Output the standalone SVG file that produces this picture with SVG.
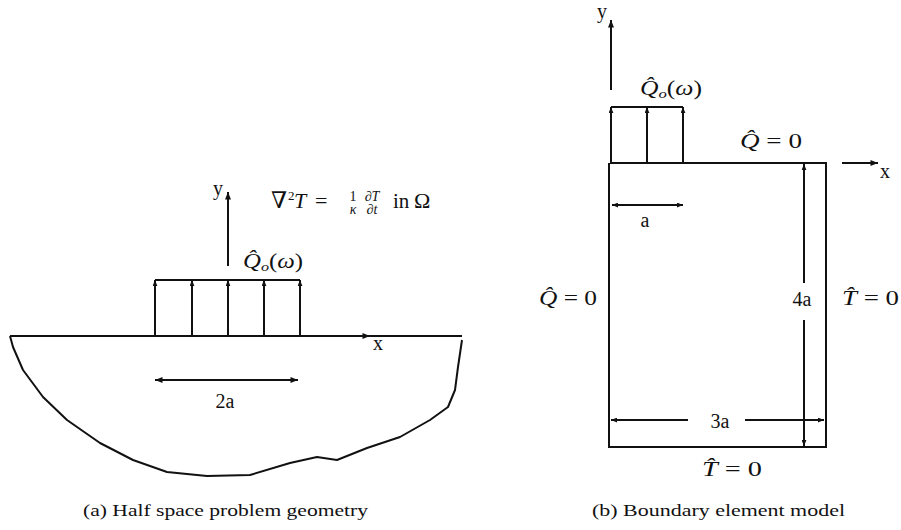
<svg xmlns="http://www.w3.org/2000/svg" width="901" height="530" viewBox="0 0 901 530">
<style>
.ln{stroke:#111;stroke-width:2;fill:none}
.t{font-family:"Liberation Serif","DejaVu Serif",serif;fill:#111}
.i{font-style:italic}
.cap{font-family:"Liberation Serif","DejaVu Serif",serif;fill:#111;font-size:17px}
</style>
<defs>
<marker id="ah" viewBox="0 0 10 8" refX="10" refY="4" markerWidth="8" markerHeight="6" markerUnits="userSpaceOnUse" orient="auto-start-reverse"><path d="M0,0 L10,4 L0,8 z" fill="#111"/></marker>
<marker id="as" viewBox="0 0 10 8" refX="10" refY="4" markerWidth="6" markerHeight="5" markerUnits="userSpaceOnUse" orient="auto-start-reverse"><path d="M0,0 L10,4 L0,8 z" fill="#111"/></marker>
</defs>
<rect width="901" height="530" fill="#fff"/>

<g id="halfspace">
<line class="ln" x1="10" y1="336" x2="462" y2="336"/>
<polyline class="ln" stroke-linejoin="round" points="10,336 13,347 23,370 43,397 67,420 100,443 133,460 167,472 207,476 250,475 290,463 317,457 337,460 367,448 400,437 430,420 448,407 455,390 458,367 462,340"/>
</g>

<g id="connectors">
<line class="ln" x1="300" y1="336" x2="370" y2="336" marker-end="url(#ah)"/>
<line class="ln" x1="228" y1="266" x2="228" y2="192" marker-end="url(#ah)"/>
<line class="ln" x1="155" y1="280" x2="300" y2="280"/>
<line class="ln" x1="155" y1="336" x2="155" y2="280" marker-end="url(#as)"/>
<line class="ln" x1="192" y1="336" x2="192" y2="280" marker-end="url(#as)"/>
<line class="ln" x1="228" y1="336" x2="228" y2="280" marker-end="url(#as)"/>
<line class="ln" x1="264" y1="336" x2="264" y2="280" marker-end="url(#as)"/>
<line class="ln" x1="300" y1="336" x2="300" y2="280" marker-end="url(#as)"/>
<line class="ln" x1="155" y1="380" x2="298" y2="380" marker-start="url(#ah)" marker-end="url(#ah)"/>
<line class="ln" x1="611" y1="90" x2="611" y2="20" marker-end="url(#ah)"/>
<line class="ln" x1="611" y1="107" x2="683" y2="107"/>
<line class="ln" x1="611" y1="163" x2="611" y2="107" marker-end="url(#as)"/>
<line class="ln" x1="647" y1="163" x2="647" y2="107" marker-end="url(#as)"/>
<line class="ln" x1="683" y1="163" x2="683" y2="107" marker-end="url(#as)"/>
<line class="ln" x1="842" y1="163" x2="878" y2="163" marker-end="url(#ah)"/>
<line class="ln" x1="612" y1="205" x2="683" y2="205" marker-start="url(#as)" marker-end="url(#as)"/>
<line class="ln" x1="804" y1="283" x2="804" y2="164" marker-end="url(#as)"/>
<line class="ln" x1="804" y1="320" x2="804" y2="446" marker-end="url(#as)"/>
<line class="ln" x1="688" y1="420" x2="611" y2="420" marker-end="url(#as)"/>
<line class="ln" x1="745" y1="420" x2="824" y2="420" marker-end="url(#as)"/>
</g>

<g id="model">
<polyline class="ln" points="610,163 826,163 826,447 609,447 609,163"/>
</g>

<g id="labels-left" font-size="20">
<text class="t" x="213" y="195">y</text>
<text class="t" x="373" y="350">x</text>
<text class="t" x="225" y="408" text-anchor="middle">2a</text>
<text class="t" x="243" y="268" textLength="60" lengthAdjust="spacingAndGlyphs"><tspan class="i">Q̂</tspan><tspan class="i" font-size="13" dy="3">o</tspan><tspan dy="-3">(</tspan><tspan class="i">ω</tspan>)</text>
<text class="t" x="271" y="208" font-size="23">∇</text>
<text class="t" x="288" y="200" font-size="13">2</text>
<text class="t i" x="294" y="208" font-size="22">T</text>
<text class="t" x="315" y="208" font-size="22">=</text>
<text class="t" font-size="14" text-anchor="middle"><tspan x="353" y="201">1</tspan><tspan class="i" x="353" y="214">κ</tspan></text>
<text class="t i" font-size="14" text-anchor="middle"><tspan x="372" y="201">∂T</tspan><tspan x="372" y="214">∂t</tspan></text>
<text class="t" x="393" y="208" font-size="21">in</text>
<text class="t" x="414" y="208" font-size="22">Ω</text>
</g>

<g id="labels-right" font-size="20">
<text class="t" x="597" y="18">y</text>
<text class="t" x="880" y="178">x</text>
<text class="t" x="640" y="95" textLength="62" lengthAdjust="spacingAndGlyphs"><tspan class="i">Q̂</tspan><tspan class="i" font-size="13" dy="3">o</tspan><tspan dy="-3">(</tspan><tspan class="i">ω</tspan>)</text>
<text class="t" x="740" y="148" textLength="62" lengthAdjust="spacingAndGlyphs"><tspan class="i">Q̂</tspan> = 0</text>
<text class="t" x="539" y="305" textLength="58" lengthAdjust="spacingAndGlyphs"><tspan class="i">Q̂</tspan> = 0</text>
<text class="t" x="842" y="305" textLength="57" lengthAdjust="spacingAndGlyphs"><tspan class="i">T̂</tspan> = 0</text>
<text class="t" x="702" y="476" textLength="60" lengthAdjust="spacingAndGlyphs"><tspan class="i">T̂</tspan> = 0</text>
<text class="t" x="645" y="227" text-anchor="middle">a</text>
<text class="t" x="802" y="306" text-anchor="middle">4a</text>
<text class="t" x="720" y="428" text-anchor="middle">3a</text>
</g>

<g id="captions">
<text class="cap" x="83" y="516" textLength="285" lengthAdjust="spacingAndGlyphs">(a) Half space problem geometry</text>
<text class="cap" x="592" y="516" textLength="253" lengthAdjust="spacingAndGlyphs">(b) Boundary element model</text>
</g>
</svg>
